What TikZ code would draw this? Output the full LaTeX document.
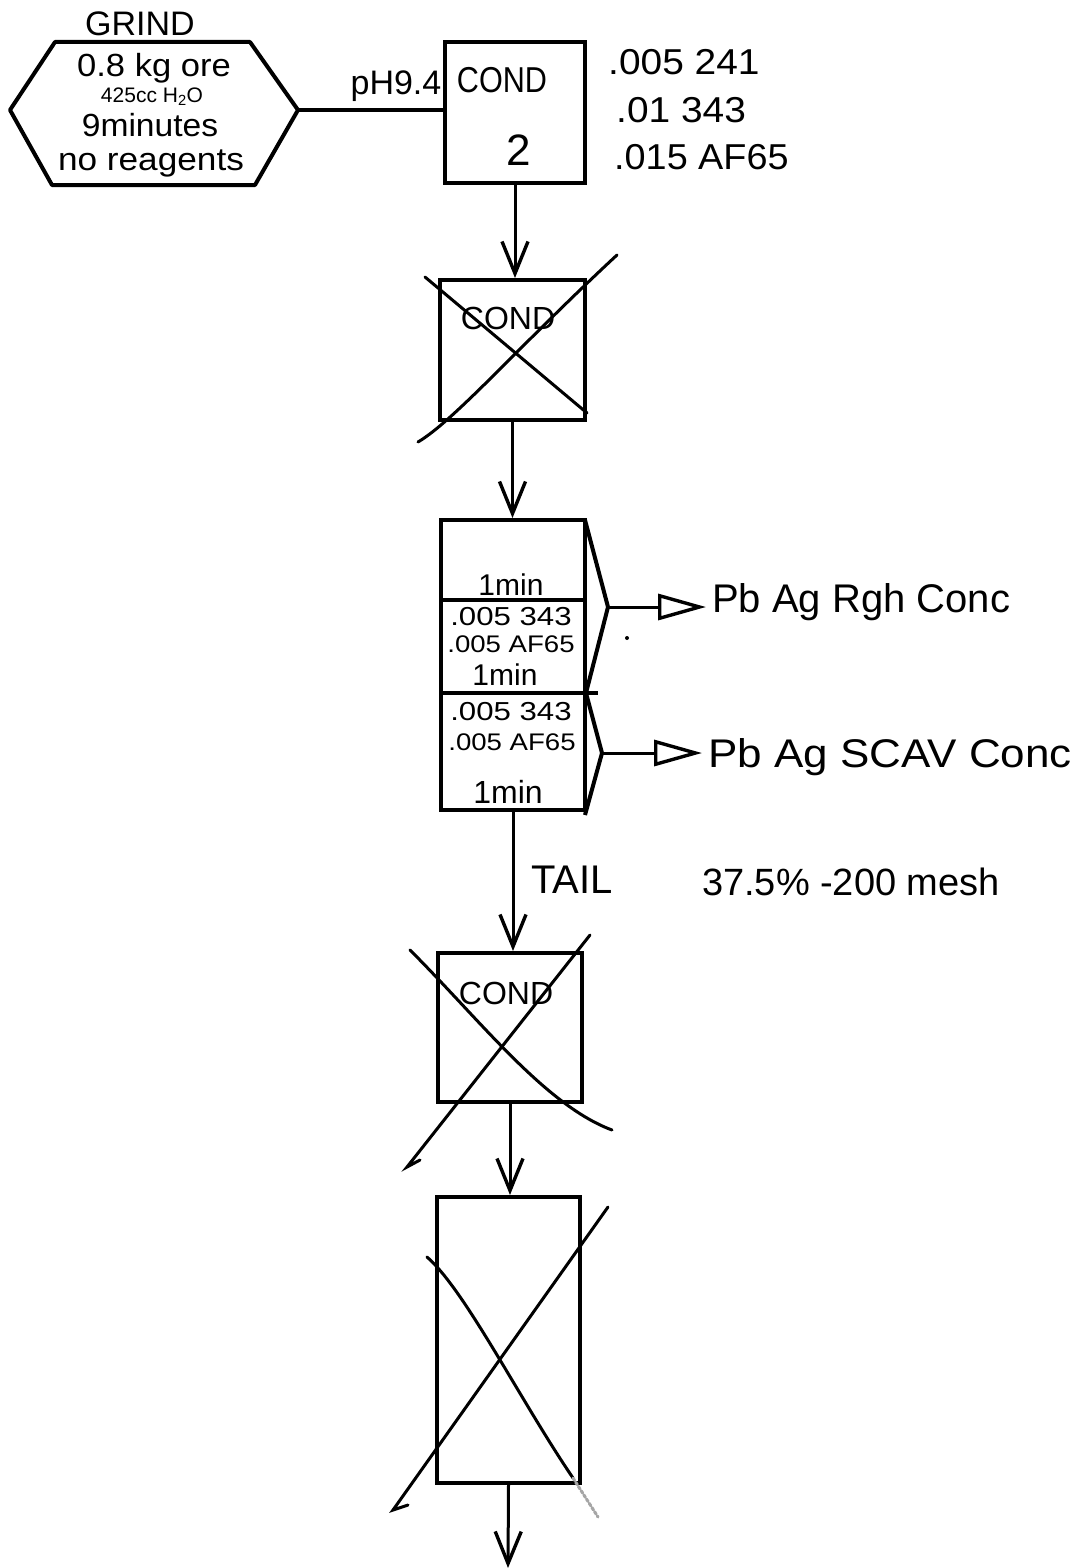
\documentclass[tikz,border=0pt]{standalone}
\usepackage{fontspec}
\setmainfont{Liberation Sans}
\usetikzlibrary{arrows.meta}
\begin{document}
\begin{tikzpicture}[x=1pt,y=-1pt,
  proc/.style={draw, line width=4pt, rectangle, inner sep=0pt},
  hw/.style={inner sep=0pt, font=\fontsize{#1pt}{#1pt}\selectfont},
  edge/.style={line width=4pt, line join=round},
  cross/.style={line width=3pt, line cap=round},
  flow/.style={line width=3pt, -{Straight Barb[length=32pt,width=26pt,line width=3.4pt]}},
  outflow/.style={line width=3pt, -{Triangle[open,length=48pt,width=26pt,line width=3.4pt]}, shorten >=6pt}
]
\useasboundingbox[fill=white] (0,0) rectangle (1077,1568);

% ---------- GRIND hexagon ----------
\coordinate (hL) at (10,110);
\coordinate (hTL) at (55,42);
\coordinate (hTR) at (250,42);
\coordinate (grindR) at (298,110);
\coordinate (hBR) at (255,185);
\coordinate (hBL) at (52,185);
\draw[edge] (hL) -- (hTL) -- (hTR) -- (grindR) -- (hBR) -- (hBL) -- cycle;
\node[hw=34] (tGrind) at (140,24) {GRIND};
\node[hw=32, xscale=1.08] (tOre) at (154,68) {0.8 kg ore};
\node[hw=21] (tWater) at (152,97) {425cc H\textsubscript{2}O};
\node[hw=32, xscale=1.05] (tMin) at (150,125) {9minutes};
\node[hw=32, xscale=1.1] (tReag) at (151,163) {no reagents};

% ---------- COND 2 ----------
\node[proc, minimum width=140pt, minimum height=141pt] (cond2) at (515,112.5) {};
\node[hw=36, xscale=0.85] (tCond2) at (502,80) {COND};
\node[hw=44] (tTwo) at (519,150) {2};
\draw[edge] (grindR) -- (grindR -| cond2.west);
\node[hw=34] (ph) at (396,86) {pH9.4};

\node[hw=36, anchor=west, xscale=1.08] (r1) at (608,62) {.005 241};
\node[hw=36, anchor=west, xscale=1.08] (r2) at (616,110) {.01 343};
\node[hw=36, anchor=west, xscale=1.05] (r3) at (614,157) {.015 AF65};

% ---------- crossed COND ----------
\node[proc, minimum width=145pt, minimum height=140pt] (condx1) at (512.5,350) {};
\node[hw=32] (tCondx1) at (508,318) {COND};
\draw[cross] (425,277) -- (587,413);
\draw[cross] (617,255) .. controls (520,345) and (455,420) .. (418,442);

% ---------- flotation cell ----------
\node[proc, minimum width=144pt, minimum height=290pt] (flot) at (513,665) {};
\draw[edge] (441,600) -- (585,600);
\draw[edge] (441,693) -- (598,693);
\node[hw=30] (f1) at (511,585) {1min};
\node[hw=26, xscale=1.2] (f2) at (511,617) {.005 343};
\node[hw=24, xscale=1.15] (f3) at (511,644) {.005 AF65};
\node[hw=30] (f4) at (505,675) {1min};
\node[hw=26, xscale=1.2] (f5) at (511,712) {.005 343};
\node[hw=24, xscale=1.15] (f6) at (512,742) {.005 AF65};
\node[hw=32] (f7) at (508,792) {1min};

\coordinate (chv1) at (608,607);
\coordinate (chv2) at (602,753);
\draw[edge] (585,520) -- (chv1) -- (586,693) -- (chv2) -- (585,815);
\fill (627,638) circle (2pt);

\node[hw=40, anchor=west] (rgh) at (712,602) {Pb Ag Rgh Conc};
\node[hw=40, anchor=west, xscale=1.1] (scav) at (708,757) {Pb Ag SCAV Conc};
\draw[outflow] (chv1) -- (chv1 -| rgh.west);
\draw[outflow] (chv2) -- (chv2 -| scav.west);

\node[hw=40] (tail) at (572,880) {TAIL};
\node[hw=38] (mesh) at (851,882) {37.5\% -200 mesh};

% ---------- crossed COND (lower) ----------
\node[proc, minimum width=144pt, minimum height=149pt] (condx3) at (510,1027.5) {};
\node[hw=32] (tCondx3) at (506,993) {COND};
\draw[cross] (410,950) .. controls (480,1020) and (545,1105) .. (612,1130);
\draw[cross] (590,935) -- (407,1167) -- (420,1160);

% ---------- last crossed box ----------
\node[proc, minimum width=143pt, minimum height=286pt] (last) at (508.5,1340) {};
\draw[cross] (608,1207) -- (393,1510) -- (408,1505);
\draw[cross] (427,1257) .. controls (465,1290) and (520,1400) .. (573,1478);
\draw[cross, gray!70, dotted] (573,1478) -- (598,1517);

% ---------- flow arrows ----------
\coordinate (outEnd) at (508,1568);
\draw[flow] (cond2.south) -- (cond2.south |- condx1.north);
\draw[flow] (condx1.south) -- (condx1.south |- flot.north);
\draw[flow] (flot.south) -- (flot.south |- condx3.north);
\draw[flow] (condx3.south) -- (condx3.south |- last.north);
\draw[flow] (last.south) -- (outEnd);
\end{tikzpicture}
\end{document}
